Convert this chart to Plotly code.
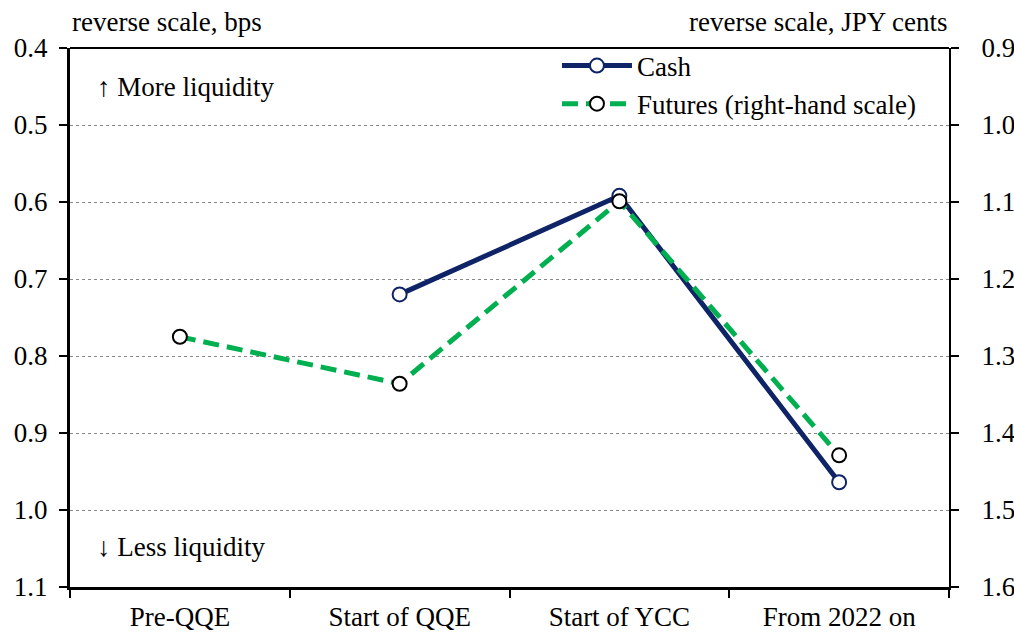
import plotly.graph_objects as go

categories = ["Pre-QQE", "Start of QQE", "Start of YCC", "From 2022 on"]
cash = [None, 0.72, 0.592, 0.964]
futures = [1.275, 1.336, 1.099, 1.429]

left_ticks = [0.4, 0.5, 0.6, 0.7, 0.8, 0.9, 1.0, 1.1]
right_ticks = [0.9, 1.0, 1.1, 1.2, 1.3, 1.4, 1.5, 1.6]

font = "Liberation Serif, Times New Roman, serif"
navy = "#0E2466"
green = "#00B050"

fig = go.Figure()
fig.add_trace(go.Scatter(
    x=categories, y=cash, name="Cash", mode="lines+markers",
    line=dict(color=navy, width=5),
    marker=dict(symbol="circle", size=14, color="white", line=dict(color=navy, width=2)),
))
fig.add_trace(go.Scatter(
    x=categories, y=futures, name="Futures (right-hand scale)", mode="lines+markers",
    yaxis="y2",
    line=dict(color=green, width=5, dash="16px,8px"),
    marker=dict(symbol="circle", size=14, color="white", line=dict(color="black", width=2)),
))

fig.update_layout(
    width=1014, height=632,
    margin=dict(l=70, r=65, t=48, b=45),
    plot_bgcolor="white", paper_bgcolor="white",
    font=dict(family=font, size=27, color="black"),
    showlegend=True,
    legend=dict(x=0.554, y=1.012, xanchor="left", yanchor="top",
                bgcolor="rgba(0,0,0,0)", font=dict(size=27),
                itemwidth=70, tracegroupgap=0),
    xaxis=dict(
        type="category", range=[-0.5, 3.5], tickson="boundaries",
        ticks="outside", ticklen=8, tickwidth=2, tickcolor="black",
        showline=True, linecolor="black", linewidth=3, showgrid=False,
        ticklabelstandoff=4, automargin=False,
    ),
    yaxis=dict(
        range=[1.1, 0.4], tickvals=left_ticks, tickformat=".1f",
        ticks="outside", ticklen=8, tickwidth=2, tickcolor="black",
        showline=True, linecolor="black", linewidth=3,
        showgrid=True, gridcolor="#888888", griddash="dot", gridwidth=1,
        zeroline=False, ticklabelstandoff=6, automargin=False,
    ),
    yaxis2=dict(
        overlaying="y", side="right", range=[1.6, 0.9], tickvals=right_ticks,
        tickformat=".1f", ticks="outside", ticklen=8, tickwidth=2,
        tickcolor="black", showline=True, linecolor="black", linewidth=2,
        showgrid=False, zeroline=False, ticklabelstandoff=17, automargin=False,
    ),
)

# top frame line
fig.add_shape(type="line", xref="paper", yref="paper", x0=0, x1=1, y0=1, y1=1,
              line=dict(color="black", width=2))

fig.add_annotation(text="reverse scale, bps", xref="paper", yref="paper",
                   x=0, y=1, xanchor="left", yanchor="bottom", yshift=9,
                   showarrow=False, font=dict(size=27))
fig.add_annotation(text="reverse scale, JPY cents", xref="paper", yref="paper",
                   x=1, y=1, xanchor="right", yanchor="bottom", yshift=9,
                   showarrow=False, font=dict(size=27))
fig.add_annotation(text="↑ More liquidity", xref="paper", yref="paper",
                   x=0.0284, y=0.928, xanchor="left", yanchor="middle",
                   showarrow=False, font=dict(size=27))
fig.add_annotation(text="↓ Less liquidity", xref="paper", yref="paper",
                   x=0.0284, y=0.074, xanchor="left", yanchor="middle",
                   showarrow=False, font=dict(size=27))

fig.write_html("out.html", config={"displayModeBar": False},
               post_script="document.body.style.margin='0';")
